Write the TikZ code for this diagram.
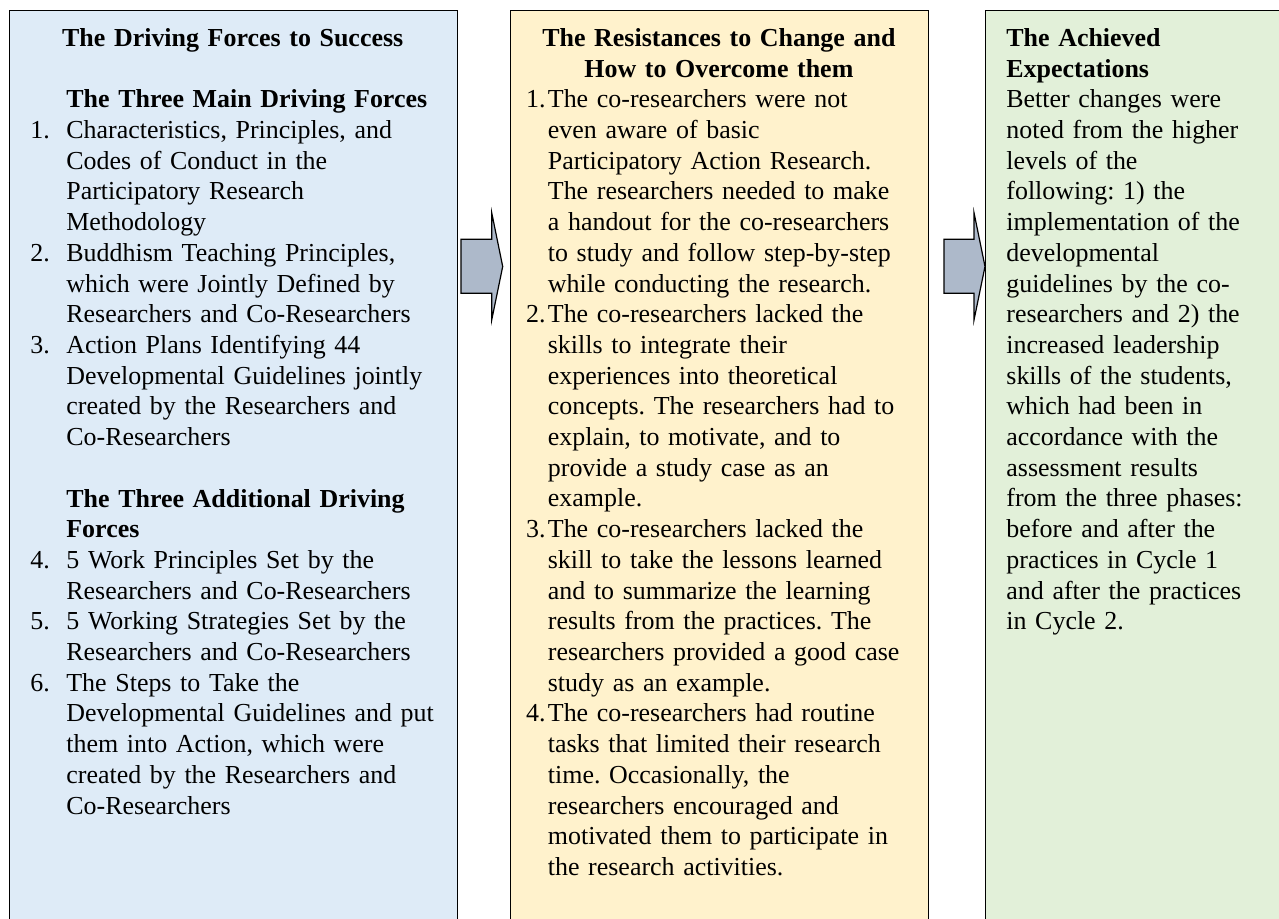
\documentclass[tikz,border=0pt]{standalone}
\usepackage{fontspec}
\setmainfont{Liberation Serif}
\definecolor{driveblue}{HTML}{DEEBF7}
\definecolor{resistyellow}{HTML}{FFF2CC}
\definecolor{achievegreen}{HTML}{E2F0D9}
\definecolor{arrowgrey}{HTML}{ADB9CA}
\newcommand{\bodyfont}{\fontsize{12.97pt}{15.35pt}\selectfont\frenchspacing}
\begin{document}
\begin{tikzpicture}[x=0.5pt,y=-0.5pt,
  panel/.style={draw=black, line width=0.6pt, inner sep=0pt, anchor=north west},
  txt/.style={inner sep=0pt, anchor=base west, align=left, text width=#1, font=\bodyfont},
  txt/.default=220pt,
  heading/.style={inner sep=0pt, anchor=base, align=center, text width=#1, font=\bodyfont\bfseries},
  heading/.default=200pt,
  num/.style={inner sep=0pt, anchor=base west, font=\bodyfont},
  numr/.style={inner sep=0pt, anchor=base east, font=\bodyfont},
  blockarrow/.style={draw=black, line width=0.6pt, fill=arrowgrey, line join=miter}]
\useasboundingbox (0,0) rectangle (1279,919);
\fill[white] (0,0) rectangle (1279,919);
\clip (0,0) rectangle (1279,919);

% ---------- panels ----------
\node[panel, fill=driveblue, minimum width=224.25pt, minimum height=465pt] (lbox) at (8.5,10) {};
\node[panel, fill=resistyellow, minimum width=208.85pt, minimum height=465pt] (mbox) at (510,10) {};
\node[panel, fill=achievegreen, minimum width=157.5pt, minimum height=465pt] (rbox) at (985,10) {};

% ---------- block arrows ----------
\draw[blockarrow] (461,239.3) -- (491.7,239.3) -- (491.7,212.7) -- (502.7,266.5)
  -- (491.7,320) -- (491.7,293.3) -- (461,293.3) -- cycle;
\draw[blockarrow] (944,239.3) -- (974,239.3) -- (974,212.7) -- (985,266.5)
  -- (974,320) -- (974,293.3) -- (944,293.3) -- cycle;

% ---------- left panel: driving forces ----------
\node[heading] (ltitle) at (232.7,46.5) {The Driving Forces to Success};
\node[txt, font=\bodyfont\bfseries] (lsub1) at (66,107.9) {The Three Main Driving Forces};
\node[num] (ln1) at (30,138.6) {1.};
\node[txt] (lt1) at (66,138.6) {Characteristics, Principles, and\\Codes of Conduct in the\\Participatory Research\\Methodology};
\node[num] (ln2) at (30,261.4) {2.};
\node[txt] (lt2) at (66,261.4) {Buddhism Teaching Principles,\\which were Jointly Defined by\\Researchers and Co-Researchers};
\node[num] (ln3) at (30,353.5) {3.};
\node[txt] (lt3) at (66,353.5) {Action Plans Identifying 44\\Developmental Guidelines jointly\\created by the Researchers and\\Co-Researchers};
\node[txt, font=\bodyfont\bfseries] (lsub2) at (66,507) {The Three Additional Driving\\Forces};
\node[num] (ln4) at (30,568.4) {4.};
\node[txt] (lt4) at (66,568.4) {5 Work Principles Set by the\\Researchers and Co-Researchers};
\node[num] (ln5) at (30,629.8) {5.};
\node[txt] (lt5) at (66,629.8) {5 Working Strategies Set by the\\Researchers and Co-Researchers};
\node[num] (ln6) at (30,691.2) {6.};
\node[txt] (lt6) at (66,691.2) {The Steps to Take the\\Developmental Guidelines and put\\them into Action, which were\\created by the Researchers and\\Co-Researchers};

% ---------- middle panel: resistances ----------
\node[heading] (mtitle) at (718.9,46.5) {The Resistances to Change and\\How to Overcome them};
\node[numr] (mn1) at (546,107.9) {1.};
\node[txt] (mt1) at (547.5,107.9) {The co-researchers were not\\even aware of basic\\Participatory Action Research.\\The researchers needed to make\\a handout for the co-researchers\\to study and follow step-by-step\\while conducting the research.};
\node[numr] (mn2) at (546,322.8) {2.};
\node[txt] (mt2) at (547.5,322.8) {The co-researchers lacked the\\skills to integrate their\\experiences into theoretical\\concepts. The researchers had to\\explain, to motivate, and to\\provide a study case as an\\example.};
\node[numr] (mn3) at (546,537.7) {3.};
\node[txt] (mt3) at (547.5,537.7) {The co-researchers lacked the\\skill to take the lessons learned\\and to summarize the learning\\results from the practices. The\\researchers provided a good case\\study as an example.};
\node[numr] (mn4) at (546,721.9) {4.};
\node[txt] (mt4) at (547.5,721.9) {The co-researchers had routine\\tasks that limited their research\\time. Occasionally, the\\researchers encouraged and\\motivated them to participate in\\the research activities.};

% ---------- right panel: achieved expectations ----------
\node[txt] (rt) at (1006,46.5) {\textbf{The Achieved}\\\textbf{Expectations}\\Better changes were\\noted from the higher\\levels of the\\following: 1) the\\implementation of the\\developmental\\guidelines by the co-\\researchers and 2) the\\increased leadership\\skills of the students,\\which had been in\\accordance with the\\assessment results\\from the three phases:\\before and after the\\practices in Cycle 1\\and after the practices\\in Cycle 2.};
\end{tikzpicture}
\end{document}
